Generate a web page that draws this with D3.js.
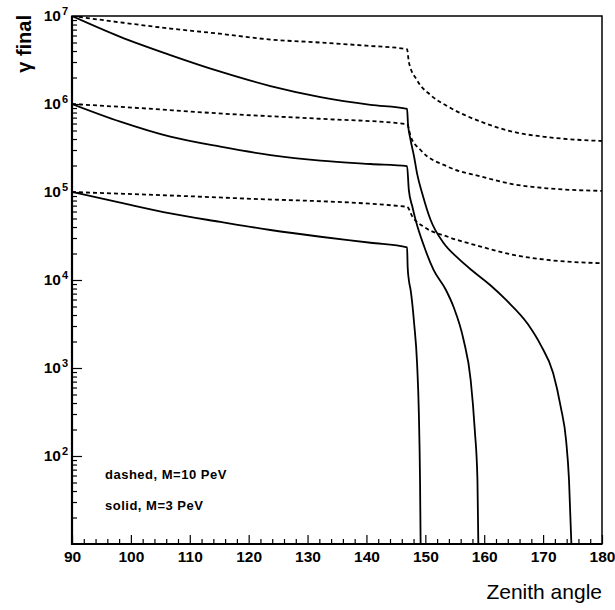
<!DOCTYPE html>
<html>
<head>
<meta charset="utf-8">
<script src="https://cdn.jsdelivr.net/npm/d3@7"></script>
<style>
  body { margin: 0; background: #fff; }
  text { font-family: "Liberation Sans", Arial, sans-serif; }
</style>
</head>
<body>
<svg id="chart" width="615" height="610"></svg>
<script>
// angles (deg) and gamma values
const angleDashed7 = [90, 98, 106.7, 115, 123.7, 132, 140, 146.9, 147.2, 148.6, 150.9, 153.8, 159.4, 165.1, 170.8, 176.4, 180]
const gammaDashed7 = [1e7, 8.5e6, 7.2e6, 6.3e6, 5.4e6, 5.0e6, 4.6e6, 4.2e6, 3.0e6, 1.86e6, 1.26e6, 9.4e5, 6.3e5, 4.8e5, 4.2e5, 3.9e5, 3.8e5]

const angleDashed6 = [90, 98, 118, 132, 146.9, 147.5, 149.2, 153.8, 159.4, 165.1, 170.8, 180]
const gammaDashed6 = [1e6, 9.3e5, 7.6e5, 6.8e5, 5.9e5, 4.3e5, 3.0e5, 1.94e5, 1.5e5, 1.22e5, 1.1e5, 1.03e5]

const angleDashed5 = [90, 118, 146.9, 147.8, 149.8, 153.8, 159.4, 165.1, 170.8, 180]
const gammaDashed5 = [1e5, 8.5e4, 6.8e4, 5.25e4, 4.0e4, 3.1e4, 2.4e4, 1.92e4, 1.69e4, 1.55e4]

const angleSolid7 = [90, 98.2, 106.7, 115.2, 123.7, 132.2, 140.7, 146.9, 147.05, 147.5, 148.1, 148.6, 149.5, 150.9, 153.1, 155.5, 158.2, 161.1, 163.8, 167.4, 169.6, 171.7, 173, 173.9, 174.4, 174.8]
const gammaSolid7 = [1e7, 5.8e6, 3.6e6, 2.33e6, 1.6e6, 1.2e6, 9.8e5, 8.8e5, 6.0e5, 3.9e5, 2.5e5, 1.62e5, 9.5e4, 4.8e4, 2.63e4, 1.78e4, 1.24e4, 8.66e3, 5.85e3, 3.16e3, 1.82e3, 877, 360, 151, 53, 10]

const angleSolid6 = [90, 98.2, 106.7, 115.2, 123.7, 132.2, 140.7, 146.9, 147.2, 147.8, 148.35, 149.8, 151.4, 153.5, 154.8, 156.5, 157.7, 158.4, 158.85, 159.0]
const gammaSolid6 = [1e6, 6.3e5, 4.25e5, 3.27e5, 2.63e5, 2.27e5, 2.08e5, 1.97e5, 1.05e5, 6.8e4, 4.8e4, 2.4e4, 1.3e4, 7.7e3, 4.93e3, 2.08e3, 731, 197, 53, 10]

const angleSolid5 = [90, 98.2, 106.7, 115.2, 123.7, 132.2, 140.7, 146.9, 147.0, 147.2, 147.5, 148.1, 148.6, 148.9, 149.1, 149.2]
const gammaSolid5 = [1e5, 7.55e4, 5.7e4, 4.57e4, 3.7e4, 3.1e4, 2.65e4, 2.35e4, 1.4e4, 1.0e4, 7.7e3, 3.2e3, 1.12e3, 305, 53, 10]

const xTicks = [90, 100, 110, 120, 130, 140, 150, 160, 170, 180]
const yTicks = [1e2, 1e3, 1e4, 1e5, 1e6, 1e7]
const legendLines = ["dashed, M=10 PeV", "solid, M=3 PeV"]

const svg = d3.select("#chart")
const width = 615
const height = 610
const margin = { left: 72, right: 13, top: 16, bottom: 66 }

const x = d3.scaleLinear()
  .domain([90, 180])
  .range([margin.left, width - margin.right])

const y = d3.scaleLog()
  .domain([10, 1e7])
  .range([height - margin.bottom, margin.top])

const series = [
  { a: angleDashed7, g: gammaDashed7, dash: "4,3" },
  { a: angleDashed6, g: gammaDashed6, dash: "4,3" },
  { a: angleDashed5, g: gammaDashed5, dash: "4,3" },
  { a: angleSolid7, g: gammaSolid7, dash: null },
  { a: angleSolid6, g: gammaSolid6, dash: null },
  { a: angleSolid5, g: gammaSolid5, dash: null }
]

const line = d3.line()
  .x(d => x(d[0]))
  .y(d => y(d[1]))
  .curve(d3.curveMonotoneX)

svg.append("clipPath").attr("id", "plotClip")
  .append("rect")
  .attr("x", margin.left)
  .attr("y", margin.top)
  .attr("width", width - margin.left - margin.right)
  .attr("height", height - margin.top - margin.bottom)

svg.append("g")
  .attr("clip-path", "url(#plotClip)")
  .selectAll("path")
  .data(series)
  .enter()
  .append("path")
  .attr("d", d => line(d3.zip(d.a, d.g)))
  .attr("fill", "none")
  .attr("stroke", "black")
  .attr("stroke-width", 1.8)
  .attr("stroke-dasharray", d => d.dash)

// x axis, ticks pointing inwards
const xMinor = d3.range(90, 181, 2).filter(v => v % 10 != 0)
svg.append("g")
  .attr("transform", `translate(0,${height - margin.bottom})`)
  .call(d3.axisBottom(x).tickValues(xMinor).tickSize(-5).tickFormat(""))
  .call(g => g.select(".domain").remove())

svg.append("g")
  .attr("transform", `translate(0,${height - margin.bottom})`)
  .call(d3.axisBottom(x).tickValues(xTicks).tickSize(-9).tickPadding(7))
  .call(g => g.select(".domain").remove())
  .selectAll("text")
  .attr("font-size", "15.5px")
  .attr("font-weight", "bold")
  .attr("fill", "black")

// y axis, log minor ticks
const yMinor = []
for (let e = 1; e < 7; e++) {
  for (let m = 2; m < 10; m++) yMinor.push(m * Math.pow(10, e))
}
svg.append("g")
  .attr("transform", `translate(${margin.left},0)`)
  .call(d3.axisLeft(y).tickValues(yMinor).tickSize(-5).tickFormat(""))
  .call(g => g.select(".domain").remove())

svg.append("g")
  .attr("transform", `translate(${margin.left},0)`)
  .call(d3.axisLeft(y).tickValues(yTicks).tickSize(-10).tickPadding(4))
  .call(g => g.select(".domain").remove())
  .selectAll("text")
  .attr("font-size", "15.5px")
  .attr("font-weight", "bold")
  .attr("fill", "black")
  .each(function(d) {
    const t = d3.select(this)
    t.text("")
    t.append("tspan").text("10")
    t.append("tspan")
      .attr("dy", "-0.55em")
      .attr("dx", "1")
      .attr("font-size", "11px")
      .text(Math.round(Math.log10(d)))
  })

svg.selectAll(".tick line").attr("stroke", "black").attr("stroke-width", 1.2)

// frame
svg.append("rect")
  .attr("x", margin.left)
  .attr("y", margin.top)
  .attr("width", width - margin.left - margin.right)
  .attr("height", height - margin.top - margin.bottom)
  .attr("fill", "none")
  .attr("stroke", "black")
  .attr("stroke-width", 1.5)

svg.append("path")
  .attr("d", `M${margin.left},${margin.top}V${height - margin.bottom}H${width - margin.right}`)
  .attr("fill", "none")
  .attr("stroke", "black")
  .attr("stroke-width", 2.2)

// axis titles
svg.append("text")
  .attr("transform", "translate(31,15) rotate(-90)")
  .attr("text-anchor", "end")
  .attr("font-size", "20px")
  .attr("font-weight", "bold")
  .text("γ final")

svg.append("text")
  .attr("x", width - margin.right)
  .attr("y", 599)
  .attr("text-anchor", "end")
  .attr("font-size", "21px")
  .text("Zenith angle")

svg.append("g").selectAll("text")
  .data(legendLines)
  .enter()
  .append("text")
  .attr("x", 105)
  .attr("y", (d, i) => 479 + i * 31)
  .attr("font-size", "13px")
  .attr("font-weight", "bold")
  .attr("letter-spacing", "0.5px")
  .text(d => d)
</script>
</body>
</html>
